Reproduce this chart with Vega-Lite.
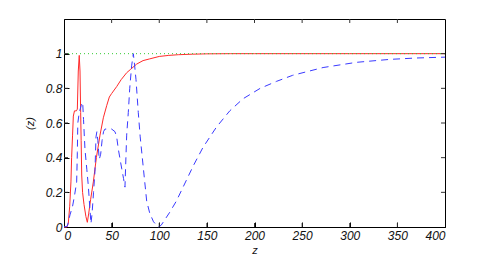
{
  "$schema": "https://vega.github.io/schema/vega-lite/v6.json",
  "width": 381,
  "height": 208,
  "autosize": {"type": "none"},
  "padding": {"left": 64, "top": 19, "right": 46, "bottom": 28},
  "background": "white",
  "config": {
    "view": {"stroke": "#000", "strokeWidth": 1},
    "axis": {
      "grid": false,
      "ticks": true,
      "tickColor": "#000",
      "tickWidth": 1,
      "tickOpacity": 1,
      "domainColor": "#000",
      "labelFont": "Liberation Sans",
      "labelFontStyle": "italic",
      "labelFontSize": 12,
      "labelColor": "#111",
      "titleFont": "Liberation Sans",
      "titleFontStyle": "italic",
      "titleFontWeight": "normal",
      "titleFontSize": 11,
      "titleColor": "#111"
    }
  },
  "datasets": {
    "red": [
      {"z": 0, "v": 0}, {"z": 3, "v": 0}, {"z": 4.5, "v": 0.02}, {"z": 6, "v": 0.12}, {"z": 7.3, "v": 0.26},
      {"z": 8, "v": 0.4}, {"z": 9, "v": 0.53}, {"z": 9.8, "v": 0.64}, {"z": 11, "v": 0.67}, {"z": 13, "v": 0.67},
      {"z": 14, "v": 0.68}, {"z": 15, "v": 0.9}, {"z": 16, "v": 0.99}, {"z": 16.8, "v": 0.9}, {"z": 17.5, "v": 0.66},
      {"z": 18, "v": 0.5}, {"z": 18.6, "v": 0.3}, {"z": 19.5, "v": 0.2}, {"z": 21, "v": 0.13}, {"z": 23, "v": 0.06},
      {"z": 24.5, "v": 0.027}, {"z": 26, "v": 0.08}, {"z": 28, "v": 0.16}, {"z": 30.8, "v": 0.26}, {"z": 34, "v": 0.4},
      {"z": 37.8, "v": 0.53}, {"z": 41.3, "v": 0.63}, {"z": 44.8, "v": 0.7}, {"z": 47.6, "v": 0.75}, {"z": 50, "v": 0.77},
      {"z": 55.3, "v": 0.81}, {"z": 60, "v": 0.85}, {"z": 65.8, "v": 0.89}, {"z": 70, "v": 0.91}, {"z": 76.3, "v": 0.94},
      {"z": 83, "v": 0.96}, {"z": 90, "v": 0.97}, {"z": 100, "v": 0.984}, {"z": 110, "v": 0.99}, {"z": 120, "v": 0.994},
      {"z": 135, "v": 0.997}, {"z": 150, "v": 0.999}, {"z": 175, "v": 1}, {"z": 200, "v": 1}, {"z": 300, "v": 1}, {"z": 400, "v": 1}
    ],
    "blue": [
      {"z": 0, "v": 0}, {"z": 3.5, "v": 0.005}, {"z": 6.3, "v": 0.07}, {"z": 9, "v": 0.12}, {"z": 11, "v": 0.18},
      {"z": 13.3, "v": 0.26}, {"z": 14, "v": 0.43}, {"z": 14.5, "v": 0.6}, {"z": 16, "v": 0.66}, {"z": 18, "v": 0.7},
      {"z": 19.6, "v": 0.72}, {"z": 20.5, "v": 0.62}, {"z": 22, "v": 0.45}, {"z": 24, "v": 0.33}, {"z": 25.5, "v": 0.24},
      {"z": 27, "v": 0.12}, {"z": 28.3, "v": 0.02}, {"z": 29.5, "v": 0.08}, {"z": 31, "v": 0.2}, {"z": 32.5, "v": 0.32},
      {"z": 33.6, "v": 0.52}, {"z": 34.5, "v": 0.55}, {"z": 35.5, "v": 0.5}, {"z": 37, "v": 0.39}, {"z": 38.5, "v": 0.42},
      {"z": 40, "v": 0.5}, {"z": 41.5, "v": 0.55}, {"z": 43, "v": 0.565}, {"z": 50, "v": 0.565}, {"z": 53.5, "v": 0.55},
      {"z": 55.3, "v": 0.52}, {"z": 57, "v": 0.45}, {"z": 60.5, "v": 0.34}, {"z": 62.5, "v": 0.28}, {"z": 64, "v": 0.23},
      {"z": 65, "v": 0.4}, {"z": 65.8, "v": 0.53}, {"z": 67.5, "v": 0.66}, {"z": 69, "v": 0.8}, {"z": 71, "v": 0.93},
      {"z": 72.8, "v": 1.0}, {"z": 74, "v": 0.94}, {"z": 75.6, "v": 0.85}, {"z": 78, "v": 0.66}, {"z": 80, "v": 0.52},
      {"z": 83.3, "v": 0.34}, {"z": 86.8, "v": 0.15}, {"z": 90, "v": 0.08}, {"z": 94, "v": 0.03}, {"z": 99, "v": 0.0},
      {"z": 102, "v": 0.01}, {"z": 105, "v": 0.035}, {"z": 111, "v": 0.085}, {"z": 118, "v": 0.15}, {"z": 125, "v": 0.23},
      {"z": 136, "v": 0.356}, {"z": 146, "v": 0.46}, {"z": 160, "v": 0.576}, {"z": 174, "v": 0.67}, {"z": 188, "v": 0.74},
      {"z": 206, "v": 0.8}, {"z": 223, "v": 0.84}, {"z": 240, "v": 0.875}, {"z": 272, "v": 0.92}, {"z": 307, "v": 0.95},
      {"z": 342, "v": 0.967}, {"z": 370, "v": 0.975}, {"z": 400, "v": 0.98}
    ],
    "green": [{"z": 0, "v": 1}, {"z": 400, "v": 1}],
    "xticks": [{"t": 50}, {"t": 100}, {"t": 150}, {"t": 200}, {"t": 250}, {"t": 300}, {"t": 350}],
    "yticks": [{"t": 0.2}, {"t": 0.4}, {"t": 0.6}, {"t": 0.8}, {"t": 1}]
  },
  "resolve": {"axis": {"x": "independent", "y": "independent"}},
  "layer": [
    {
      "data": {"name": "red"},
      "mark": {"type": "line", "color": "#ff2a2a", "strokeWidth": 1},
      "encoding": {
        "x": {"field": "z", "type": "quantitative", "scale": {"domain": [0, 400], "nice": false},
              "axis": {"orient": "bottom", "values": [0, 50, 100, 150, 200, 250, 300, 350, 400], "ticks": true, "tickSize": -5, "labelPadding": 8, "title": "z", "titlePadding": 3}},
        "y": {"field": "v", "type": "quantitative", "scale": {"domain": [0, 1.2], "nice": false},
              "axis": {"orient": "left", "values": [0, 0.2, 0.4, 0.6, 0.8, 1], "labelExpr": "datum.value", "ticks": true, "tickSize": -5, "labelPadding": 7, "title": "(z)", "titlePadding": 10}}
      }
    },
    {
      "data": {"name": "blue"},
      "mark": {"type": "line", "color": "#3a3aff", "strokeWidth": 1, "strokeDash": [7, 5]},
      "encoding": {
        "x": {"field": "z", "type": "quantitative", "scale": {"domain": [0, 400], "nice": false}, "axis": null},
        "y": {"field": "v", "type": "quantitative", "scale": {"domain": [0, 1.2], "nice": false}, "axis": null}
      }
    },
    {
      "data": {"name": "green"},
      "mark": {"type": "line", "color": "#33cc33", "strokeWidth": 1, "strokeDash": [1, 3]},
      "encoding": {
        "x": {"field": "z", "type": "quantitative", "scale": {"domain": [0, 400], "nice": false}, "axis": null},
        "y": {"field": "v", "type": "quantitative", "scale": {"domain": [0, 1.2], "nice": false}, "axis": null}
      }
    },
    {
      "data": {"name": "xticks"},
      "mark": {"type": "rule", "color": "#333", "strokeWidth": 1},
      "encoding": {
        "x": {"field": "t", "type": "quantitative", "axis": null},
        "y": {"datum": 0, "type": "quantitative", "axis": null},
        "y2": {"datum": 0.023}
      }
    },
    {
      "data": {"name": "xticks"},
      "mark": {"type": "rule", "color": "#333", "strokeWidth": 1},
      "encoding": {
        "x": {"field": "t", "type": "quantitative", "axis": null},
        "y": {"datum": 1.2, "type": "quantitative", "axis": null},
        "y2": {"datum": 1.177}
      }
    },
    {
      "data": {"name": "yticks"},
      "mark": {"type": "rule", "color": "#333", "strokeWidth": 1},
      "encoding": {
        "y": {"field": "t", "type": "quantitative", "axis": null},
        "x": {"datum": 0, "type": "quantitative", "axis": null},
        "x2": {"datum": 4.2}
      }
    },
    {
      "data": {"name": "yticks"},
      "mark": {"type": "rule", "color": "#333", "strokeWidth": 1},
      "encoding": {
        "y": {"field": "t", "type": "quantitative", "axis": null},
        "x": {"datum": 400, "type": "quantitative", "axis": null},
        "x2": {"datum": 395.8}
      }
    }
  ]
}
